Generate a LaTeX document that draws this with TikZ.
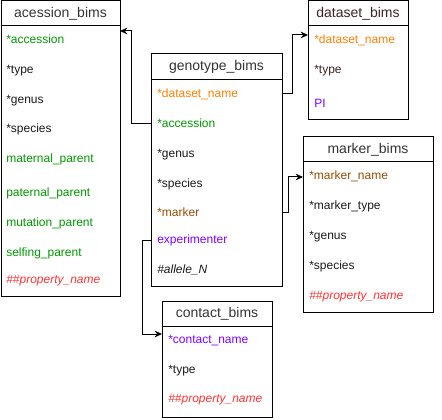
\documentclass[tikz,border=0pt]{standalone}
\usepackage{fontspec}
\setmainfont{Liberation Sans}
\usetikzlibrary{arrows.meta,calc}
\definecolor{accgreen}{RGB}{0,153,0}
\definecolor{dsorange}{RGB}{255,128,0}
\definecolor{mkbrown}{RGB}{153,76,0}
\definecolor{ctviolet}{RGB}{127,0,255}
\definecolor{propred}{RGB}{255,51,51}
\definecolor{txt}{RGB}{26,26,26}
\definecolor{ttlgray}{RGB}{51,51,51}
\definecolor{dsttl}{RGB}{64,32,32}
\def\px{0.75pt}
\tikzset{
  tbl/.style={draw, line width=\px, anchor=north west, inner sep=0pt, outer sep=0pt},
  ttl/.style={font=\fontsize{10.5}{12}\selectfont, text=ttlgray, inner sep=0pt},
  fld/.style={font=\fontsize{9}{11}\selectfont, anchor=west, inner sep=0pt, text height=0.72em, text depth=0.2em},
  link/.style={line width=\px, -{Stealth[length=5.5pt,width=5pt]}}
}

\begin{document}
\begin{tikzpicture}[x=\px,y=-\px]
\useasboundingbox (0,0) rectangle (442,420);

% acession_bims
\node[tbl, minimum width=119*\px, minimum height=295*\px] (acession) at (1,1) {};
\draw[line width=\px] ($(acession.north west)+(0,25)$) -- ($(acession.north east)+(0,25)$);
\node[ttl] (acession-t) at ($(acession.north)+(0,12.5)$) {acession\_bims};
\foreach \y/\c/\t [count=\i] in {40/accgreen/*accession, 70/txt/*type, 100/txt/*genus, 129/txt/*species, 159/accgreen/maternal\_parent, 193/accgreen/paternal\_parent, 223/accgreen/mutation\_parent, 253/accgreen/selfing\_parent, 280/propred/{\itshape\#\#property\_name}}
  \node[fld, text=\c] (acc\i) at (6,\y) {\t};

% genotype_bims
\node[tbl, minimum width=131*\px, minimum height=232*\px] (genotype) at (151,54) {};
\draw[line width=\px] ($(genotype.north west)+(0,26)$) -- ($(genotype.north east)+(0,26)$);
\node[ttl] (genotype-t) at ($(genotype.north)+(0,13)$) {genotype\_bims};
\foreach \y/\c/\t [count=\i] in {94/dsorange/*dataset\_name, 124/accgreen/*accession, 154/txt/*genus, 184/txt/*species, 213/mkbrown/*marker, 240/ctviolet/experimenter, 270/txt/{\itshape\#allele\_N}}
  \node[fld, text=\c] (gen\i) at (157,\y) {\t};

% dataset_bims
\node[tbl, minimum width=100*\px, minimum height=119*\px] (dataset) at (308,1) {};
\draw[line width=\px] ($(dataset.north west)+(0,25)$) -- ($(dataset.north east)+(0,25)$);
\node[ttl, text=dsttl] (dataset-t) at ($(dataset.north)+(0,12.5)$) {dataset\_bims};
\foreach \y/\c/\t [count=\i] in {40/dsorange/*dataset\_name, 70/dsttl/*type, 104/ctviolet/PI}
  \node[fld, text=\c] (ds\i) at (314,\y) {\t};

% marker_bims
\node[tbl, minimum width=130*\px, minimum height=175*\px] (marker) at (303,137) {};
\draw[line width=\px] ($(marker.north west)+(0,25)$) -- ($(marker.north east)+(0,25)$);
\node[ttl] (marker-t) at ($(marker.north)+(0,12.5)$) {marker\_bims};
\foreach \y/\c/\t [count=\i] in {176/mkbrown/*marker\_name, 206/txt/*marker\_type, 236/txt/*genus, 266/txt/*species, 296/propred/{\itshape\#\#property\_name}}
  \node[fld, text=\c] (mk\i) at (309,\y) {\t};

% contact_bims
\node[tbl, minimum width=110*\px, minimum height=116*\px] (contact) at (162,301) {};
\draw[line width=\px] ($(contact.north west)+(0,25)$) -- ($(contact.north east)+(0,25)$);
\node[ttl] (contact-t) at ($(contact.north)+(0,12.5)$) {contact\_bims};
\foreach \y/\c/\t [count=\i] in {340/ctviolet/*contact\_name, 370/txt/*type, 399/propred/{\itshape\#\#property\_name}}
  \node[fld, text=\c] (ct\i) at (168,\y) {\t};

% links
\draw[link] (genotype.west |- gen2) -- ++(-20,0) |- ($(acession.north east)+(0,30)$);
\draw[link] (genotype.east |- gen1) -- ++(10,0) |- ($(dataset.north west)+(0,34)$);
\draw[link] (genotype.east |- gen5) -- ++(6,0) |- ($(marker.north west)+(0,40)$);
\draw[link] (genotype.west |- gen6) -- ++(-9,0) |- ($(contact.north west)+(0,33)$);
\end{tikzpicture}
\end{document}
